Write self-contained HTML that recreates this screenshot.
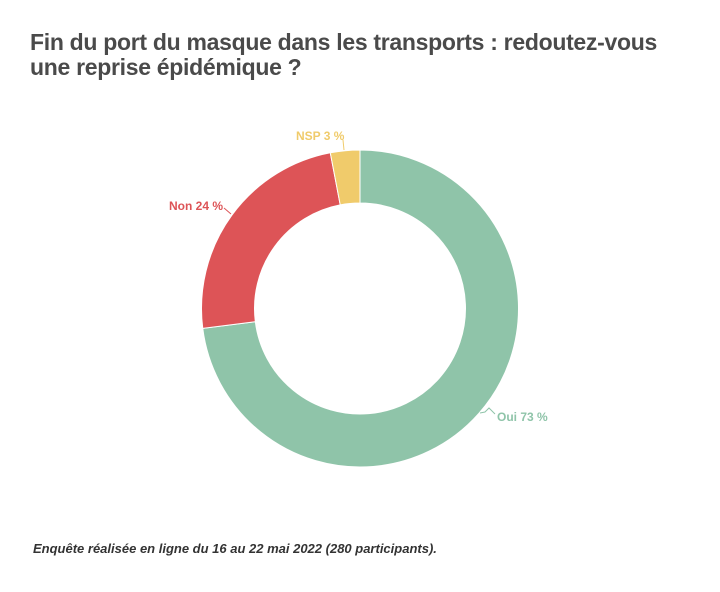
<!DOCTYPE html>
<html><head><meta charset="utf-8"><style>
body{margin:0;background:#fff;width:720px;height:592px;overflow:hidden;font-family:"Liberation Sans",sans-serif}
.t{position:absolute;left:30px;top:30px;font-size:23px;font-weight:bold;color:#4a4a4a;line-height:25px;letter-spacing:-0.3px}
.f{position:absolute;left:33px;top:541px;font-size:13px;font-style:italic;font-weight:bold;color:#333}
svg{position:absolute;left:0;top:0}
</style></head><body>
<div class="t">Fin du port du masque dans les transports : redoutez-vous<br>une reprise épidémique ?</div>
<svg width="720" height="592" font-family="Liberation Sans, sans-serif" font-size="12" font-weight="bold">
<path d="M360,150 A158.5,158.5 0 1 1 202.75,328.36 L255.33,321.72 A105.5,105.5 0 1 0 360,203 Z" fill="#8fc4a9" stroke="#fff" stroke-width="1"/>
<path d="M202.75,328.36 A158.5,158.5 0 0 1 330.30,152.81 L340.23,204.87 A105.5,105.5 0 0 0 255.33,321.72 Z" fill="#dd5457" stroke="#fff" stroke-width="1"/>
<path d="M330.30,152.81 A158.5,158.5 0 0 1 360,150 L360,203 A105.5,105.5 0 0 0 340.23,204.87 Z" fill="#f0cb6b" stroke="#fff" stroke-width="1"/>
<polyline points="480,413 485,412 489,408 495,414" fill="none" stroke="#8fc4a9" stroke-width="1"/>
<text x="497" y="421" fill="#8fc4a9">Oui 73 %</text>
<polyline points="224,208 231,214" fill="none" stroke="#dd5457" stroke-width="1"/>
<text x="169" y="210" fill="#dd5457">Non 24 %</text>
<polyline points="343,140 344,150" fill="none" stroke="#f0cb6b" stroke-width="1"/>
<text x="296" y="140" fill="#f0cb6b">NSP 3 %</text>
</svg>
<div class="f">Enquête réalisée en ligne du 16 au 22 mai 2022 (280 participants).</div>
</body></html>
